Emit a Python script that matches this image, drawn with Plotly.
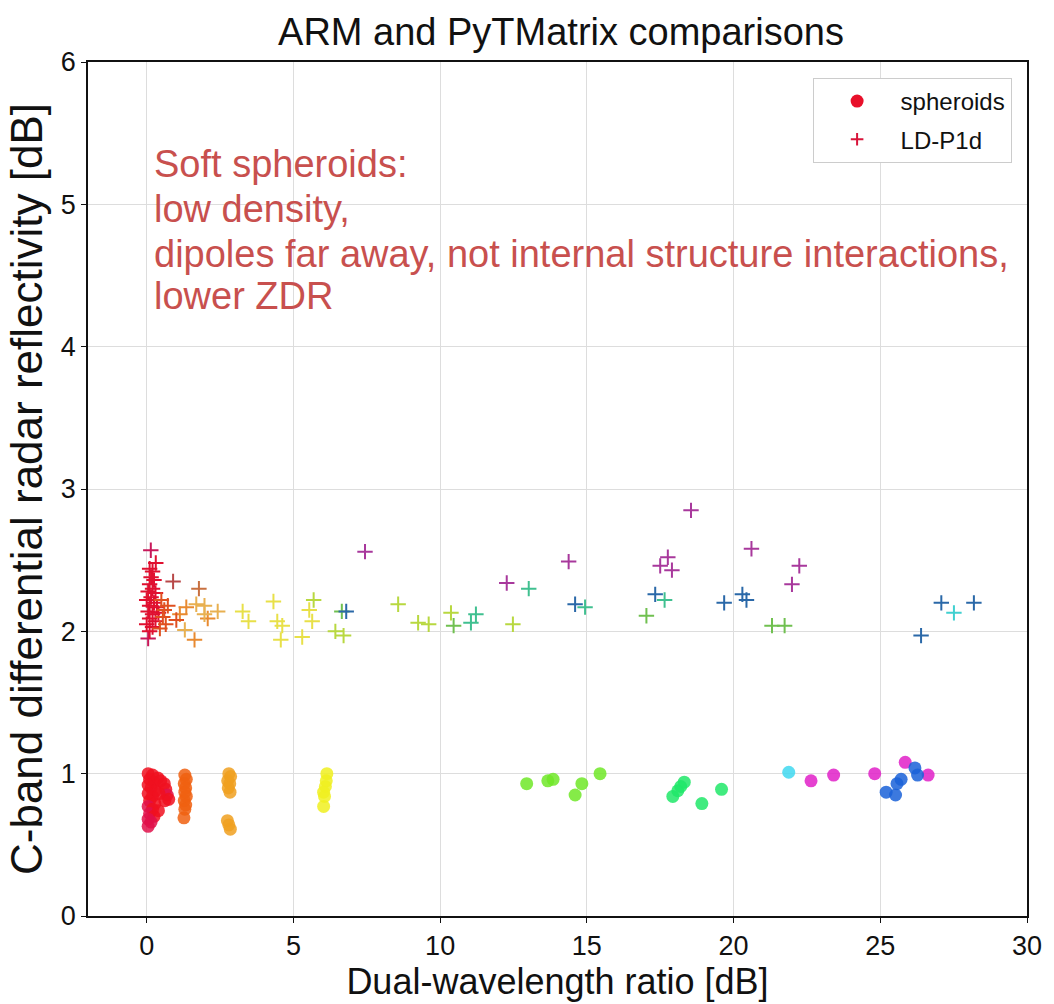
import plotly.graph_objects as go

# ---------------- data ----------------
# spheroids (circles): x = DWR [dB], y = ZDR [dB], colour group
sph_x = [0.05, 0.20, 0.10, 0.25, 0.05, 0.15, 0.30, 0.05, 0.20, 0.10, 0.28, 0.05, 0.20, 0.10, 0.25, 0.05, 0.15, 0.05,
         0.38, 0.48, 0.60, 0.65, 0.70, 0.62, 0.75, 0.40, 0.42,
         1.30, 1.35, 1.28, 1.33, 1.30, 1.35, 1.28, 1.33, 1.30, 1.27,
         2.80, 2.86, 2.76, 2.83, 2.78, 2.84, 2.75, 2.80, 2.85,
         6.14, 6.12, 6.09, 6.03, 6.06, 6.03,
         12.95, 13.67, 13.85, 14.83, 14.60, 15.45,
         17.93, 18.10, 18.20, 18.32, 18.92, 19.59,
         21.88,
         22.64, 23.41, 24.81, 25.85, 26.63,
         25.20, 25.52, 25.57, 25.71, 26.18, 26.27]
sph_y = [1.00, 0.99, 0.96, 0.94, 0.92, 0.90, 0.88, 0.86, 0.84, 0.81, 0.79, 0.77, 0.75, 0.72, 0.70, 0.68, 0.66, 0.63,
         0.97, 0.95, 0.93, 0.89, 0.85, 0.81, 0.82, 0.74, 0.86,
         0.99, 0.96, 0.93, 0.90, 0.87, 0.84, 0.81, 0.78, 0.75, 0.69,
         1.00, 0.98, 0.95, 0.93, 0.90, 0.87, 0.67, 0.64, 0.61,
         1.00, 0.95, 0.91, 0.87, 0.84, 0.77,
         0.93, 0.95, 0.96, 0.93, 0.85, 1.00,
         0.84, 0.88, 0.91, 0.94, 0.79, 0.89,
         1.01,
         0.95, 0.99, 1.00, 1.08, 0.99,
         0.87, 0.85, 0.93, 0.96, 1.04, 0.99]
sph_group = (["r"] * 11 + ["c", "r", "c", "r", "c", "c", "c"] +
             ["r", "r", "r", "r", "c", "r", "r", "r", "r"] +
             ["o1"] * 10 + ["o2"] * 9 + ["y"] * 6 + ["g1"] * 6 + ["g2"] * 6 +
             ["cy"] + ["m"] * 5 + ["b"] * 6)

# LD-P1d (crosses)
ld_x = [0.14, 0.31, 0.90, 1.78, 1.63, 0.05, 1.30, 1.35, 1.69, 1.97, 2.08, 1.97, 2.42, 1.13, 1.01,
        0.10, 0.20, 0.15, 0.25, 0.10, 0.20, 0.05, 0.30, 0.15, 0.00, 0.25, 0.10, 0.35, 0.05, 0.20, 0.40,
        0.10, 0.30, 0.00, 0.20, 0.45, 0.10, 0.55, 0.60, 0.50, 0.65, 0.72,
        3.27, 3.47, 4.32, 4.45, 4.62, 4.57, 5.30, 5.69, 5.54, 5.64, 6.43, 6.71, 6.65, 6.80,
        7.44, 8.57, 9.25, 9.61, 10.37, 10.46, 11.05, 11.22, 12.27, 12.48, 13.02,
        14.38, 14.60, 14.94, 17.03, 17.33, 17.65, 17.50, 17.76, 17.90, 18.55,
        20.61, 22.24, 21.99, 19.68, 20.30, 20.44, 21.31, 21.74,
        26.39, 27.08, 27.51, 28.19]
ld_y = [2.57, 2.48, 2.35, 2.30, 1.94, 1.95, 2.01, 2.17, 2.19, 2.18, 2.09, 2.12, 2.14, 2.12, 2.08,
        2.44, 2.42, 2.38, 2.36, 2.33, 2.30, 2.28, 2.27, 2.24, 2.22, 2.20, 2.18, 2.17, 2.14, 2.12, 2.13,
        2.09, 2.07, 2.05, 2.03, 2.02, 2.00, 2.10, 2.15, 2.22, 2.05, 2.18,
        2.14, 2.07, 2.21, 2.07, 2.04, 1.94, 1.96, 2.22, 2.15, 2.07, 2.00, 1.97, 2.14, 2.14,
        2.56, 2.19, 2.06, 2.05, 2.13, 2.04, 2.06, 2.12, 2.34, 2.05, 2.30,
        2.49, 2.19, 2.17, 2.11, 2.26, 2.22, 2.46, 2.52, 2.43, 2.85,
        2.58, 2.46, 2.33, 2.20, 2.26, 2.22, 2.04, 2.04,
        1.97, 2.20, 2.13, 2.20]
ld_group = (["c", "r", "rb", "ob", "o", "c", "lo", "o", "lo", "lo", "o", "lo", "lo", "o", "ro"] +
            ["r"] * 20 + ["ro", "r", "ro", "ro", "ro", "ro", "ro"] +
            ["y"] * 7 + ["yg", "y", "y", "yg", "yg", "g", "b"] +
            ["m", "yg", "yg", "yg", "yg", "g", "tg", "tg", "m", "yg", "tg"] +
            ["m", "b", "tg", "g", "b", "tg", "m", "m", "m", "m"] +
            ["m", "m", "m", "b", "b", "b", "g", "g"] +
            ["b", "b", "cy", "b"])

title_text = "ARM and PyTMatrix comparisons"
x_label = "Dual-wavelength ratio [dB]"
y_label = "C-band differential radar reflectivity [dB]"
note_lines = ["Soft spheroids:", "low density,",
              "dipoles far away, not internal structure interactions,", "lower ZDR"]
x_ticks = [0, 5, 10, 15, 20, 25, 30]
y_ticks = [0, 1, 2, 3, 4, 5, 6]

# ---------------- styles ----------------
sph_palette = {"r": "#f01020", "c": "#e0104a", "o1": "#f06010", "o2": "#f0a020", "y": "#f0f020",
               "g1": "#70e828", "g2": "#20e868", "cy": "#40d8f0", "m": "#e020c8", "b": "#1a62d8"}
ld_palette = {"r": "#e01030", "c": "#c8185a", "rb": "#b84848", "ob": "#c87040", "ro": "#e05020",
              "o": "#e88a30", "lo": "#e8b050", "y": "#e8e048", "yg": "#b8d840", "g": "#70c050",
              "tg": "#40c090", "b": "#2a68a8", "m": "#a8389c", "cy": "#40d0d0"}

FONT = "Liberation Sans, Arial, sans-serif"

fig = go.Figure()
fig.add_trace(go.Scatter(
    x=sph_x, y=sph_y, mode="markers", showlegend=False,
    marker=dict(symbol="circle", size=13, opacity=0.85,
                color=[sph_palette[g] for g in sph_group], line=dict(width=0))))
fig.add_trace(go.Scatter(
    x=ld_x, y=ld_y, mode="markers", showlegend=False,
    marker=dict(symbol="cross-thin", size=11,
                line=dict(width=2, color=[ld_palette[g] for g in ld_group]))))

# legend entries
fig.add_trace(go.Scatter(x=[None], y=[None], mode="markers", name="spheroids", legendgroup="a",
                         marker=dict(symbol="circle", size=13, color="#e8102a")))
fig.add_trace(go.Scatter(x=[None], y=[None], mode="markers", name="LD-P1d", legendgroup="b",
                         marker=dict(symbol="cross-thin", size=9, line=dict(width=2, color="#d8143a"))))

note_y = [164, 209, 254, 297]
for txt, yp in zip(note_lines, note_y):
    fig.add_annotation(text=txt, xref="paper", yref="paper",
                       x=(152 - 88) / 946, y=(918 - yp) / 856,
                       xanchor="left", yanchor="middle", showarrow=False,
                       font=dict(family=FONT, size=38, color="#c8504e"))

fig.update_layout(
    width=1054, height=1004,
    margin=dict(l=88, r=20, t=62, b=86),
    paper_bgcolor="white", plot_bgcolor="white",
    title=dict(text=title_text, x=(561) / 1054, xanchor="center",
               y=1 - 32 / 1004, yanchor="middle", yref="container",
               font=dict(family=FONT, size=38, color="#111")),
    font=dict(family=FONT, color="#111"),
    legend=dict(x=(818 - 88) / 946, y=(918 - 78) / 856, xanchor="left", yanchor="top",
                bgcolor="white", bordercolor="#cccccc", borderwidth=1,
                font=dict(family=FONT, size=24, color="#111"),
                itemwidth=77, tracegroupgap=4),
)
fig.update_xaxes(range=[-2, 30], tickvals=x_ticks, ticktext=[str(t) for t in x_ticks],
                 showgrid=True, gridcolor="#dddddd", gridwidth=1, zeroline=False,
                 showline=True, linecolor="#111", linewidth=1.5, mirror=True,
                 ticks="outside", ticklen=5, tickcolor="#111",
                 tickfont=dict(family=FONT, size=27, color="#111"),
                 title=dict(text=x_label, font=dict(family=FONT, size=36, color="#111"), standoff=6))
fig.update_yaxes(range=[0, 6], tickvals=y_ticks, ticktext=[str(t) for t in y_ticks],
                 showgrid=True, gridcolor="#dddddd", gridwidth=1, zeroline=False,
                 showline=True, linecolor="#111", linewidth=1.5, mirror=True,
                 ticks="outside", ticklen=5, tickcolor="#111",
                 tickfont=dict(family=FONT, size=27, color="#111"),
                 title=dict(text=y_label, font=dict(family=FONT, size=44, color="#111"), standoff=4))

fig.write_html("out.html")
